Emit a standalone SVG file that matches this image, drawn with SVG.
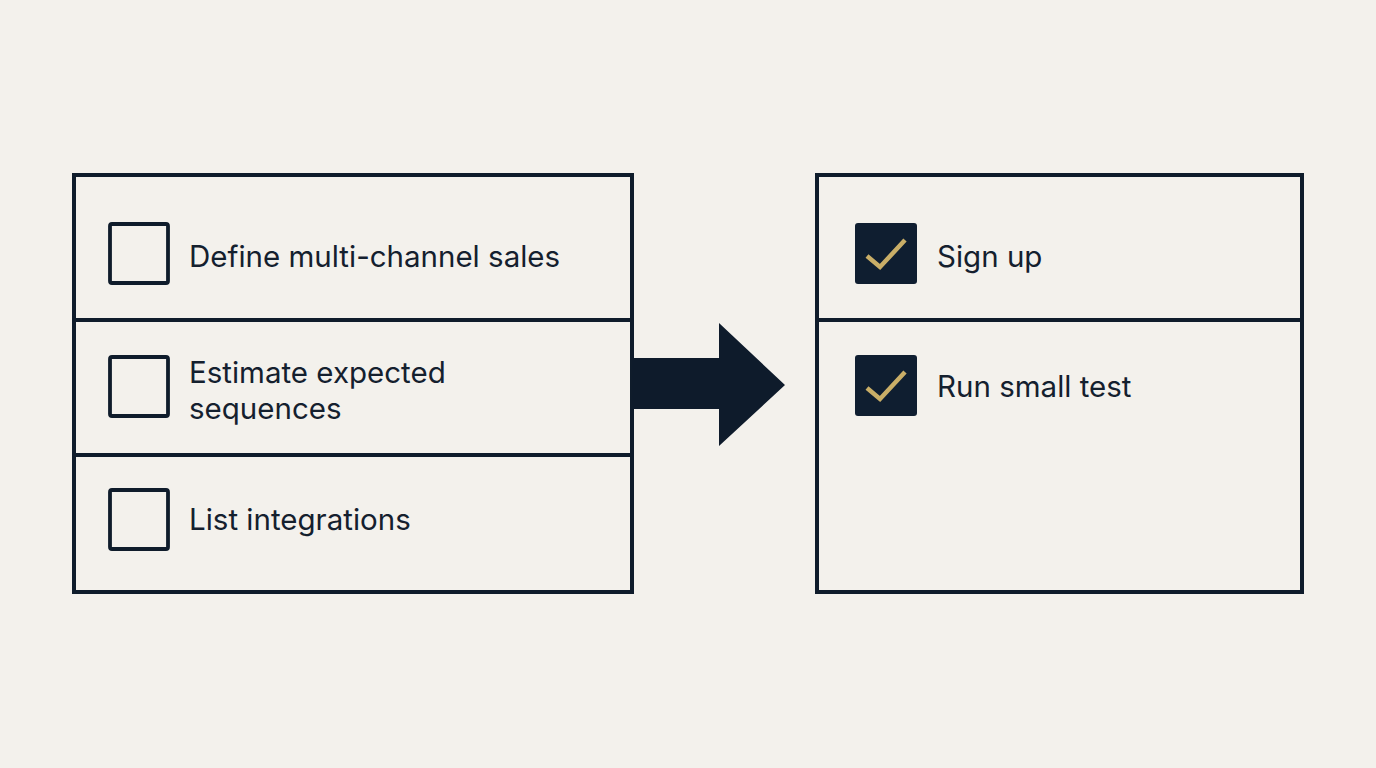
<svg xmlns="http://www.w3.org/2000/svg" width="1376" height="768" viewBox="0 0 1376 768">
<style>
.panel{fill:none;stroke:#0f1c2b;stroke-width:4}
.div{stroke:#0f1c2b;stroke-width:4}
.box{fill:none;stroke:#0f1c2b;stroke-width:3.8}
.boxf{fill:#0f1e30}
.chk{fill:none;stroke:#c9ae67;stroke-width:4.5;stroke-linecap:butt;stroke-linejoin:miter}
.t{font-family:Inter,"Liberation Sans",sans-serif;font-size:29.5px;fill:#14202e}
</style>
<rect width="1376" height="768" fill="#f3f1ec"/>
<g id="left-panel">
<rect class="panel" x="74" y="175" width="558" height="417"/>
<line class="div" x1="74" y1="320" x2="632" y2="320"/>
<line class="div" x1="74" y1="455" x2="632" y2="455"/>
</g>
<g id="item-define">
<rect class="box" x="110" y="224" width="58" height="59" rx="2"/>
<text class="t" x="189" y="267">Define multi-channel sales</text>
</g>
<g id="item-estimate">
<rect class="box" x="110" y="357" width="58" height="59" rx="2"/>
<text class="t" x="189" y="383">Estimate expected</text>
<text class="t" x="189" y="419">sequences</text>
</g>
<g id="item-list">
<rect class="box" x="110" y="490" width="58" height="59" rx="2"/>
<text class="t" x="189" y="530">List integrations</text>
</g>
<g id="connectors">
<polygon fill="#0e1b2b" points="632,358 719,358 719,323 785,385 719,446 719,409 632,409"/>
</g>
<g id="right-panel">
<rect class="panel" x="817" y="175" width="485" height="417"/>
<line class="div" x1="817" y1="320" x2="1302" y2="320"/>
</g>
<g id="item-signup">
<rect class="boxf" x="855" y="223" width="62" height="61" rx="3"/>
<polyline class="chk" points="867,256 880,267 905,240"/>
<text class="t" x="937" y="267">Sign up</text>
</g>
<g id="item-run">
<rect class="boxf" x="855" y="355" width="62" height="61" rx="3"/>
<polyline class="chk" points="867,388 880,399 905,372"/>
<text class="t" x="937" y="397">Run small test</text>
</g>
</svg>
